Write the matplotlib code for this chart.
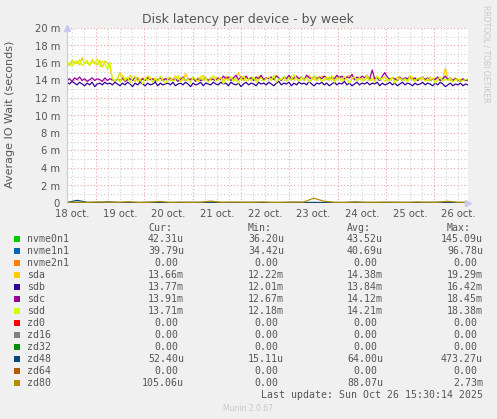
import numpy as np
import matplotlib
matplotlib.use("Agg")
import matplotlib.pyplot as plt
from matplotlib.patches import Rectangle
from matplotlib.ticker import FixedLocator

W, H = 497, 419

# time axis in days of October
t_start, t_end = 18.40, 26.70
day_labels = ["18 oct.", "19 oct.", "20 oct.", "21 oct.", "22 oct.",
              "23 oct.", "24 oct.", "25 oct.", "26 oct."]
day_label_pos = [18.5, 19.5, 20.5, 21.5, 22.5, 23.5, 24.5, 25.5, 26.5]

y_ticks = [0, 2, 4, 6, 8, 10, 12, 14, 16, 18, 20]
y_tick_labels = ["0", "2 m", "4 m", "6 m", "8 m", "10 m", "12 m",
                 "14 m", "16 m", "18 m", "20 m"]

# values in milliseconds
sda = [16.0, 15.7, 16.3, 15.9, 16.2, 15.8, 16.6, 15.9, 16.1, 15.7, 16.4, 16.0, 15.8, 16.3, 15.5, 16.2, 16.0, 15.6, 14.1, 14.0,
       14.2, 14.9, 14.1, 14.3, 14.0, 14.6, 14.2, 13.9, 14.4, 14.1, 14.3, 14.0, 14.5, 14.2, 14.1, 14.3, 14.0, 14.4, 14.2, 14.1,
       14.3, 14.0, 14.2, 14.5, 14.1, 14.3, 14.0, 14.8, 14.2, 14.1, 14.4, 14.0, 14.3, 14.2, 14.6, 14.1, 14.0, 14.3, 14.2, 14.4,
       14.1, 14.3, 14.0, 14.5, 14.2, 14.4, 14.1, 14.3, 14.9, 14.2, 14.0, 14.3, 14.1, 14.4, 14.2, 14.0, 14.5, 14.3, 14.1, 14.2,
       14.4, 14.1, 14.3, 14.6, 14.2, 14.0, 14.4, 14.2, 14.3, 14.5, 14.1, 14.3, 14.2, 14.4, 14.0, 14.3, 14.6, 14.2, 14.1, 14.4,
       14.2, 14.5, 14.3, 14.1, 14.4, 14.2, 14.0, 14.3, 14.5, 14.2, 14.1, 14.4, 14.6, 14.2, 14.3, 14.0, 14.4, 14.2, 14.1, 14.3,
       14.0, 14.3, 14.2, 14.5, 14.1, 14.3, 14.4, 14.0, 14.2, 14.3, 14.1, 14.4, 14.2, 14.0, 14.3, 14.1, 14.2, 14.4, 14.0, 14.2,
       14.3, 14.1, 14.2, 14.0, 14.4, 14.1, 14.3, 14.2, 14.0, 14.1, 15.4, 14.2, 14.0, 14.1, 14.3, 13.9, 14.2, 14.0, 14.1, 13.9]
sdb = [13.8, 13.6, 13.9, 13.7, 13.5, 13.8, 13.6, 13.4, 13.7, 13.5, 13.8, 13.3, 13.6, 13.7, 13.5, 13.8, 13.6, 13.7, 13.5, 13.8,
       13.6, 13.4, 13.7, 13.5, 13.8, 13.6, 13.3, 13.7, 13.5, 13.8, 13.6, 13.4, 13.7, 13.5, 13.6, 13.8, 13.4, 13.7, 13.5, 13.6,
       13.7, 13.5, 13.8, 13.4, 13.6, 13.7, 13.5, 13.8, 13.6, 13.3, 13.7, 13.5, 13.6, 13.8, 13.4, 13.7, 13.6, 13.5, 13.8, 13.6,
       13.5, 13.8, 13.6, 13.7, 13.4, 13.8, 13.6, 13.5, 13.7, 13.3, 13.6, 13.8, 13.5, 13.7, 13.6, 13.4, 13.8, 13.6, 13.7, 13.5,
       13.8, 13.6, 13.4, 13.7, 13.9, 13.5, 13.7, 13.6, 13.8, 13.4, 13.7, 13.5, 13.8, 13.6, 13.7, 13.5, 13.9, 13.6, 13.4, 13.7,
       13.6, 13.8, 13.5, 13.7, 13.4, 13.6, 13.8, 13.5, 13.7, 13.6, 13.9, 13.5, 13.7, 13.4, 13.6, 13.8, 13.5, 13.7, 13.6, 13.8,
       13.5, 13.7, 13.6, 13.8, 13.4, 13.7, 13.5, 13.6, 13.8, 13.5, 13.7, 13.4, 13.6, 13.8, 13.5, 13.7, 13.6, 13.4, 13.7, 13.5,
       13.6, 13.8, 13.5, 13.7, 13.6, 13.4, 13.7, 13.5, 13.8, 13.6, 13.3, 13.5, 13.7, 13.4, 13.6, 13.5, 13.7, 13.4, 13.6, 13.5]
sdc = [14.0, 14.2, 13.9, 14.3, 14.1, 14.4, 14.0, 14.2, 13.9, 14.1, 14.3, 14.0, 14.2, 14.1, 13.9, 14.3, 14.0, 14.2, 14.1, 13.9,
       14.2, 14.0, 14.3, 13.9, 14.1, 14.2, 14.0, 14.4, 14.1, 13.9, 14.2, 14.0, 14.3, 14.1, 14.2, 13.9, 14.1, 14.3, 14.0, 14.2,
       14.1, 14.3, 14.0, 14.2, 13.9, 14.1, 14.4, 14.0, 14.2, 14.1, 14.3, 13.9, 14.2, 14.0, 14.1, 14.3, 14.0, 14.2, 14.1, 14.0,
       14.3, 14.1, 14.5, 14.2, 14.4, 14.0, 14.3, 14.6, 14.1, 14.4, 14.2, 14.5, 14.1, 14.3, 14.0, 14.4, 14.2, 14.6, 14.1, 14.3,
       14.2, 14.4, 14.1, 14.5, 14.3, 14.0, 14.4, 14.2, 14.6, 14.1, 14.3, 14.5, 14.2, 14.4, 14.1, 14.6, 14.3, 14.2, 14.5, 14.1,
       14.4, 14.2, 14.5, 14.3, 14.1, 14.4, 14.2, 14.6, 14.3, 14.5, 14.2, 14.4, 14.3, 14.7, 14.1, 14.4, 14.2, 14.5, 14.3, 14.6,
       14.1, 15.2, 14.2, 14.3, 14.0, 14.5, 14.9, 14.4, 14.1, 14.3, 14.2, 14.0, 14.4, 14.1, 14.3, 14.2, 14.5, 14.1, 14.3, 14.0,
       14.2, 14.4, 14.1, 14.3, 14.0, 14.2, 14.1, 14.4, 14.0, 14.2, 14.5, 14.1, 14.3, 14.0, 14.2, 14.1, 13.9, 14.2, 14.0, 14.1]
sdd = [15.8, 16.1, 15.6, 16.2, 15.9, 16.4, 15.7, 16.0, 16.3, 15.8, 16.1, 15.9, 16.5, 15.6, 16.2, 15.9, 15.3, 16.1, 14.2, 13.9,
       14.3, 13.8, 14.6, 14.0, 14.4, 13.7, 14.2, 14.5, 13.9, 14.1, 13.6, 14.3, 14.0, 14.4, 13.8, 14.2, 13.9, 14.5, 14.0, 13.7,
       14.2, 14.4, 13.9, 14.1, 14.6, 13.8, 14.3, 14.0, 14.2, 13.7, 14.4, 14.1, 13.9, 14.5, 14.0, 14.3, 13.8, 14.2, 14.6, 13.9,
       14.1, 14.3, 13.6, 14.2, 14.0, 14.4, 13.9, 14.1, 13.7, 14.3, 14.5, 13.9, 14.2, 14.0, 14.4, 13.8, 14.1, 14.3, 13.9, 14.2,
       14.4, 14.0, 14.6, 13.8, 14.2, 14.1, 14.5, 13.9, 14.3, 14.0, 14.7, 14.2, 13.9, 14.4, 14.1, 14.3, 13.8, 14.2, 14.5, 14.0,
       14.3, 13.9, 14.1, 14.4, 14.0, 14.6, 13.8, 14.2, 14.3, 13.9, 14.5, 14.1, 13.7, 14.2, 14.4, 14.0, 14.3, 13.9, 14.1, 14.6,
       14.0, 14.2, 13.8, 14.5, 14.1, 14.3, 13.9, 14.2, 14.0, 14.4, 13.7, 14.1, 14.3, 14.0, 14.2, 13.8, 14.6, 14.1, 13.9, 14.3,
       14.1, 14.4, 13.9, 14.2, 14.0, 14.3, 13.7, 14.1, 14.4, 13.9, 14.2, 14.0, 14.3, 13.8, 14.1, 14.2, 13.9, 14.0, 14.1, 14.2]
nvme0n1 = [0.04, 0.05, 0.04, 0.04, 0.05, 0.04, 0.04, 0.05, 0.04, 0.04]
nvme1n1 = [0.04, 0.04, 0.04, 0.05, 0.04, 0.04, 0.04, 0.04, 0.05, 0.04]
zd48 = [0.06, 0.30, 0.07, 0.06, 0.12, 0.06, 0.05, 0.06, 0.08, 0.06, 0.05, 0.06, 0.07, 0.06, 0.09, 0.06, 0.05, 0.06, 0.07, 0.06,
        0.06, 0.05, 0.08, 0.06, 0.07, 0.06, 0.05, 0.06, 0.10, 0.06, 0.05, 0.06, 0.07, 0.06, 0.05, 0.06, 0.08, 0.06, 0.05, 0.06]
zd80 = [0.08, 0.10, 0.07, 0.12, 0.09, 0.08, 0.15, 0.07, 0.09, 0.18, 0.08, 0.10, 0.07, 0.09, 0.22, 0.08, 0.11, 0.09, 0.08, 0.12,
        0.07, 0.09, 0.10, 0.10, 0.55, 0.20, 0.09, 0.07, 0.11, 0.08, 0.09, 0.10, 0.08, 0.07, 0.12, 0.09, 0.08, 0.20, 0.09, 0.08]

series = [
    ("nvme0n1", "#00CC00", nvme0n1, "42.31u", "36.20u", "43.52u", "145.09u"),
    ("nvme1n1", "#0066B3", nvme1n1, "39.79u", "34.42u", "40.69u", "96.78u"),
    ("nvme2n1", "#FF8000", None, "0.00", "0.00", "0.00", "0.00"),
    ("sda", "#FFCC00", sda, "13.66m", "12.22m", "14.38m", "19.29m"),
    ("sdb", "#330099", sdb, "13.77m", "12.01m", "13.84m", "16.42m"),
    ("sdc", "#990099", sdc, "13.91m", "12.67m", "14.12m", "18.45m"),
    ("sdd", "#CCFF00", sdd, "13.71m", "12.18m", "14.21m", "18.38m"),
    ("zd0", "#FF0000", None, "0.00", "0.00", "0.00", "0.00"),
    ("zd16", "#808080", None, "0.00", "0.00", "0.00", "0.00"),
    ("zd32", "#008F00", None, "0.00", "0.00", "0.00", "0.00"),
    ("zd48", "#00487D", zd48, "52.40u", "15.11u", "64.00u", "473.27u"),
    ("zd64", "#B35A00", None, "0.00", "0.00", "0.00", "0.00"),
    ("zd80", "#B38F00", zd80, "105.06u", "0.00", "88.07u", "2.73m"),
]

txt_col = "#555555"
fig = plt.figure(figsize=(W / 100, H / 100), dpi=100, facecolor="#F0F0F0")


def fx(x):
    return x / W


def fy(y):
    return 1 - y / H


ax = fig.add_axes([fx(67), fy(203), (468 - 67) / W, (203 - 28) / H])
ax.set_facecolor("white")
ax.set_xlim(t_start, t_end)
ax.set_ylim(0, 20)

for name, color, vals, *_ in series:
    if vals is None:
        ax.plot([t_start, t_end], [0, 0], color=color, lw=0.9)
    else:
        ax.plot(np.linspace(t_start, t_end, len(vals)), vals, color=color, lw=0.9)

ax.xaxis.set_major_locator(FixedLocator(day_label_pos))
ax.set_xticklabels(day_labels)
ax.yaxis.set_major_locator(FixedLocator(y_ticks))
ax.set_yticklabels(y_tick_labels)
ax.tick_params(length=0, labelsize=7.2, colors=txt_col)
ax.tick_params(axis="y", pad=5)
ax.tick_params(axis="x", pad=4.5)

# grid lines
for d in np.arange(18.5, 26.75, 0.25):
    major = abs(d - round(d)) < 1e-6
    ax.axvline(d, color="#F0A0A0" if major else "#CFCFCF", lw=0.8,
               ls=(0, (1, 2)), zorder=0)
for v in range(1, 21):
    ax.axhline(v, color="#F0A0A0" if v % 2 == 0 else "#CFCFCF", lw=0.8,
               ls=(0, (1, 2)), zorder=0)

for s in ["top", "right", "bottom"]:
    ax.spines[s].set_visible(False)
ax.spines["left"].set_color("#C8C8F0")
ax.spines["left"].set_linewidth(0.8)
ax.plot([1.0], [0], marker=">", color="#C8C8F0", ms=5, transform=ax.transAxes, clip_on=False)
ax.plot([0], [1.0], marker="^", color="#C8C8F0", ms=5, transform=ax.transAxes, clip_on=False)

fig.text(fx(248), fy(20), "Disk latency per device - by week", ha="center", va="center",
         fontsize=9, color=txt_col)
fig.text(fx(10.5), fy(114), "Average IO Wait (seconds)", rotation=90, ha="center", va="center",
         fontsize=8, color=txt_col)
fig.text(fx(486), fy(5), "RRDTOOL / TOBI OETIKER", rotation=270, ha="center", va="top",
         fontsize=5.5, color="#C8C8C8")

# legend table
mono = "DejaVu Sans Mono"
fs = 7.1
cw = 6.0
cols = [184, 284, 383, 483]
for right, head in zip(cols, ["Cur:", "Min:", "Avg:", "Max:"]):
    fig.text(fx(right - 2 * cw), fy(228), head, ha="right", va="center",
             family=mono, fontsize=fs, color=txt_col)
for i, (name, color, vals, cur, mn, avg, mx) in enumerate(series):
    y = 239 + 12 * i
    fig.add_artist(Rectangle((fx(14), fy(y + 3)), 6 / W, 6 / H, transform=fig.transFigure,
                             facecolor=color, edgecolor="none"))
    fig.text(fx(27), fy(y), name, ha="left", va="center", family=mono, fontsize=fs, color=txt_col)
    for right, val in zip(cols, [cur, mn, avg, mx]):
        shift = 0 if val[-1] in "um" else cw
        fig.text(fx(right - shift), fy(y), val, ha="right", va="center",
                 family=mono, fontsize=fs, color=txt_col)

fig.text(fx(483), fy(395), "Last update: Sun Oct 26 15:30:14 2025", ha="right", va="center",
         family=mono, fontsize=fs, color=txt_col)
fig.text(fx(248), fy(408), "Munin 2.0.67", ha="center", va="center", fontsize=5.5, color="#C8C8C8")

fig.savefig("out.png", dpi=100, facecolor=fig.get_facecolor())
